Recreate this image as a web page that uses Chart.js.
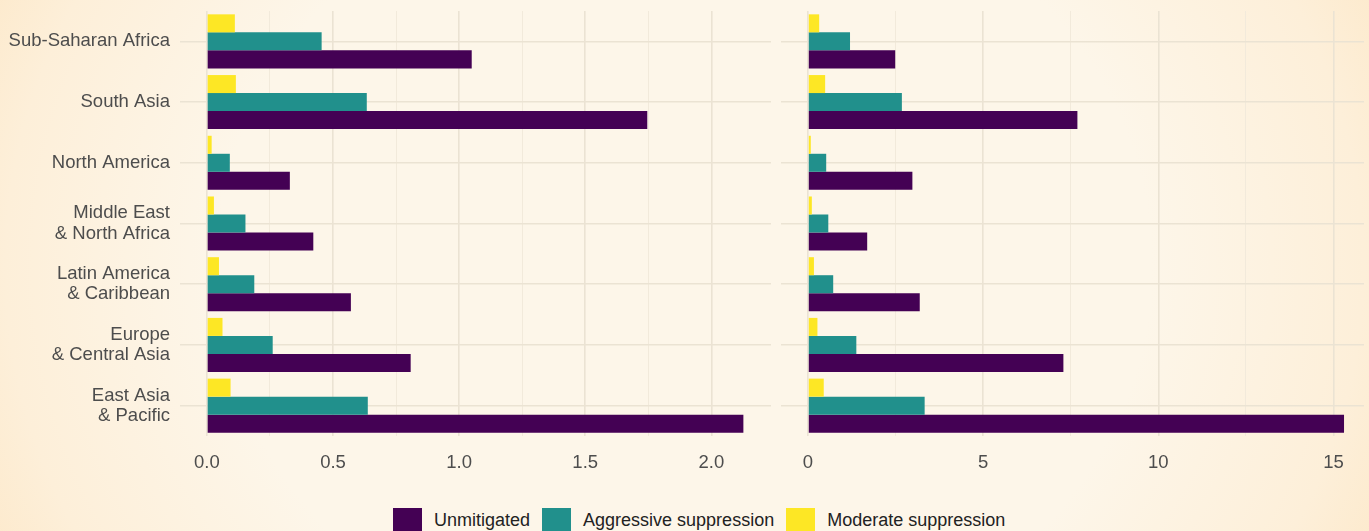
<!DOCTYPE html>
<html>
<head>
<meta charset="utf-8">
<script src="https://cdn.jsdelivr.net/npm/chart.js@4"></script>
<style>
  html, body { margin:0; padding:0; }
  body {
    width:1369px; height:531px; overflow:hidden; position:relative;
    background: radial-gradient(ellipse 62% 140% at 50% 50%, #fdf6e9 55%, #fdefd9 80%, #fce4bf 100%);
    font-family: "Liberation Sans", Arial, sans-serif;
  }
  #left { position:absolute; left:0; top:0; }
  #right { position:absolute; left:771px; top:0; }
  #legend {
    position:absolute; left:393px; top:508px; display:flex; align-items:center;
    font-size:18px; color:#222;
  }
  #legend .box { width:29px; height:25px; margin-right:12px; }
  #legend .lab { margin-right:12px; }
</style>
</head>
<body>
<canvas id="left" width="771" height="492"></canvas>
<canvas id="right" width="598" height="492"></canvas>
<div id="legend"></div>
<script>
/* two panels sharing regions, legend below */
const regions = [
  'Sub-Saharan Africa',
  'South Asia',
  'North America',
  ['Middle East', '& North Africa'],
  ['Latin America', '& Caribbean'],
  ['Europe', '& Central Asia'],
  ['East Asia', '& Pacific']
];

// left panel
const leftModerate   = [0.111, 0.115, 0.019, 0.028, 0.048, 0.062, 0.094];
const leftAggressive = [0.455, 0.634, 0.091, 0.153, 0.188, 0.261, 0.638];
const leftUnmitigated= [1.05, 1.746, 0.329, 0.422, 0.571, 0.808, 2.127];

// right panel
const rightModerate   = [0.32, 0.49, 0.08, 0.11, 0.17, 0.27, 0.45];
const rightAggressive = [1.20, 2.68, 0.52, 0.58, 0.72, 1.38, 3.33];
const rightUnmitigated= [2.49, 7.69, 2.98, 1.69, 3.19, 7.29, 15.30];

const seriesNames = ['Unmitigated', 'Aggressive suppression', 'Moderate suppression'];
const colors = { unmit: '#440154', aggr: '#21908c', mod: '#fde725' };

const tickFont = { family: 'Liberation Sans', size: 18.5, lineHeight: 1.1 };
const tickColor = '#4d4d4d';
const gridMajor = '#ebe3d3';
const gridMinor = '#f2eadb';

function datasets(mod, aggr, unmit) {
  const common = { barPercentage: 1, categoryPercentage: 0.89, borderWidth: 0 };
  return [
    { label: seriesNames[2], data: mod, backgroundColor: colors.mod, ...common },
    { label: seriesNames[1], data: aggr, backgroundColor: colors.aggr, ...common },
    { label: seriesNames[0], data: unmit, backgroundColor: colors.unmit, ...common }
  ];
}

function isMajor(v, step) {
  const r = v / step;
  return Math.abs(r - Math.round(r)) < 1e-6;
}

function makePanel(id, mod, aggr, unmit, xOpts, showLabels) {
  return new Chart(document.getElementById(id), {
    type: 'bar',
    data: { labels: regions, datasets: datasets(mod, aggr, unmit) },
    options: {
      indexAxis: 'y',
      responsive: false,
      animation: false,
      layout: { padding: { top: 11, right: showLabels ? 0 : 5, left: 0, bottom: 0 } },
      plugins: { legend: { display: false }, tooltip: { enabled: false } },
      scales: {
        x: {
          min: xOpts.min, max: xOpts.max,
          border: { display: false },
          grid: {
            drawTicks: false,
            color: c => isMajor(c.tick.value, xOpts.major) ? gridMajor : gridMinor,
            lineWidth: c => isMajor(c.tick.value, xOpts.major) ? 1.6 : 1
          },
          ticks: {
            stepSize: xOpts.step,
            includeBounds: false,
            autoSkip: false,
            maxRotation: 0,
            padding: 17,
            color: tickColor,
            font: tickFont,
            callback: v => isMajor(v, xOpts.major) ? xOpts.fmt(v) : ''
          },
          afterFit: s => { s.height = 56; s.paddingLeft = 0; s.paddingRight = 0; }
        },
        y: {
          border: { display: false },
          grid: { offset: false, drawTicks: false, color: gridMajor, lineWidth: 1.6 },
          ticks: {
            display: showLabels,
            padding: 10,
            color: tickColor,
            font: tickFont
          },
          afterFit: s => {
            s.width = showLabels ? 180 : 10;
            s.paddingTop = 0;
            s.paddingBottom = 0;
          }
        }
      }
    }
  });
}

makePanel('left', leftModerate, leftAggressive, leftUnmitigated,
  { min: -0.1065, max: 2.2365, step: 0.25, major: 0.5, fmt: v => v.toFixed(1) }, true);
makePanel('right', rightModerate, rightAggressive, rightUnmitigated,
  { min: -0.77, max: 15.87, step: 2.5, major: 5, fmt: v => String(Math.round(v)) }, false);

// legend in the order of the original figure
const legend = document.getElementById('legend');
[[seriesNames[0], colors.unmit], [seriesNames[1], colors.aggr], [seriesNames[2], colors.mod]].forEach(([name, col]) => {
  const b = document.createElement('span');
  b.className = 'box';
  b.style.background = col;
  const t = document.createElement('span');
  t.className = 'lab';
  t.textContent = name;
  legend.appendChild(b);
  legend.appendChild(t);
});
</script>
</body>
</html>
